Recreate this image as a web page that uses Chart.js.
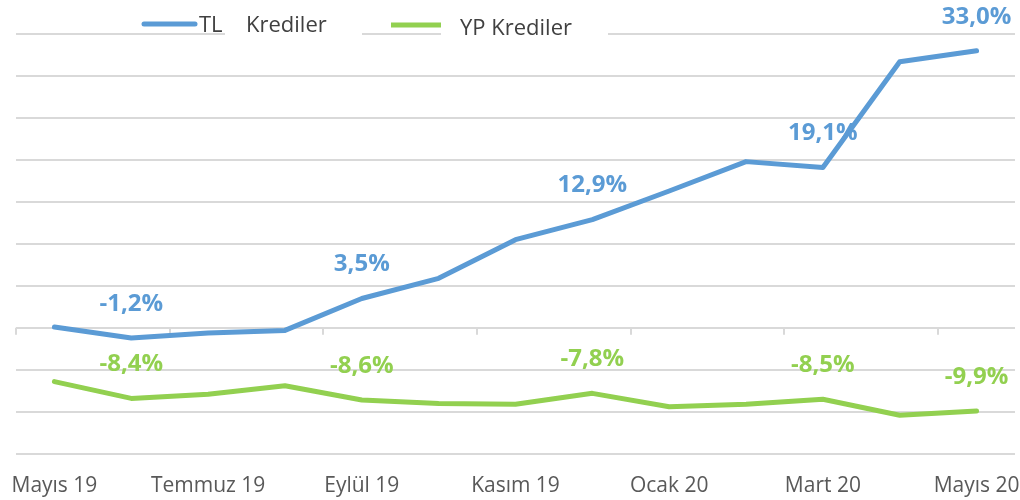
<!DOCTYPE html>
<html>
<head>
<meta charset="utf-8">
<script src="https://cdn.jsdelivr.net/npm/chart.js@4/dist/chart.umd.min.js"></script>
<style>
html,body{margin:0;padding:0;background:#fff;}
#wrap{width:1020px;height:500px;}
</style>
</head>
<body>
<div id="wrap"><canvas id="c" width="1020" height="500"></canvas></div>
<script>
const months = ['Mayıs 19','Haziran 19','Temmuz 19','Ağustos 19','Eylül 19','Ekim 19','Kasım 19','Aralık 19','Ocak 20','Şubat 20','Mart 20','Nisan 20','Mayıs 20'];
const tlValues = [0.1,-1.2,-0.6,-0.3,3.5,5.9,10.5,12.9,16.3,19.8,19.1,31.7,33.0];
const ypValues = [-6.4,-8.4,-7.9,-6.9,-8.6,-9.0,-9.1,-7.8,-9.4,-9.1,-8.5,-10.4,-9.9];
const labeledIdx = [1,4,7,10,12];
const seriesNames = ['TL Krediler','YP Krediler'];
const yMin = -15, yMax = 35, yStep = 5;

const BLUE = '#5B9BD5', GREEN = '#92D050', GRID = '#d9d9d9';

const zeroAxisTicks = {
  id: 'zeroAxisTicks',
  beforeDatasetsDraw(chart) {
    const xs = chart.scales.x, ys = chart.scales.y;
    const ctx = chart.ctx;
    const y0 = ys.getPixelForValue(0);
    const half = (xs.getPixelForValue(1) - xs.getPixelForValue(0)) / 2;
    ctx.save();
    ctx.strokeStyle = GRID;
    ctx.lineWidth = 2;
    ctx.beginPath();
    for (let i = 0; i < months.length; i += 2) {
      const x = Math.round(xs.getPixelForValue(i) - half);
      ctx.moveTo(x, y0);
      ctx.lineTo(x, y0 + 7);
    }
    ctx.stroke();
    ctx.restore();
  }
};

const valueLabels = {
  id: 'valueLabels',
  afterDatasetsDraw(chart) {
    const ctx = chart.ctx;
    ctx.save();
    ctx.font = 'bold 24px "Open Sans"';
    ctx.textAlign = 'center';
    ctx.textBaseline = 'middle';
    chart.data.datasets.forEach((ds, di) => {
      const meta = chart.getDatasetMeta(di);
      ctx.fillStyle = ds.borderColor;
      labeledIdx.forEach(i => {
        const p = meta.data[i];
        const txt = ds.data[i].toFixed(1).replace('.', ',') + '%';
        ctx.fillText(txt, p.x, p.y - 34);
      });
    });
    ctx.restore();
  }
};

const legendPlugin = {
  id: 'customLegend',
  afterDraw(chart) {
    const ctx = chart.ctx;
    ctx.save();
    ctx.fillStyle = '#fff';
    ctx.fillRect(225, 28, 137, 12);
    ctx.fillRect(441, 28, 167, 12);
    ctx.lineWidth = 5;
    ctx.lineCap = 'round';
    ctx.strokeStyle = chart.data.datasets[0].borderColor;
    ctx.beginPath(); ctx.moveTo(144, 24); ctx.lineTo(195, 24); ctx.stroke();
    ctx.lineCap = 'butt';
    ctx.strokeStyle = chart.data.datasets[1].borderColor;
    ctx.beginPath(); ctx.moveTo(391, 25); ctx.lineTo(441, 25); ctx.stroke();
    ctx.fillStyle = '#404040';
    ctx.font = '22px "Open Sans"';
    ctx.textBaseline = 'middle';
    ctx.textAlign = 'left';
    const tl = chart.data.datasets[0].label.split(' ');
    ctx.fillText(tl[0], 199, 26);
    ctx.fillText(tl.slice(1).join(' '), 246, 26);
    ctx.fillText(chart.data.datasets[1].label, 460, 29);
    ctx.restore();
  }
};

new Chart(document.getElementById('c'), {
  type: 'line',
  data: {
    labels: months,
    datasets: [
      { label: seriesNames[0], data: tlValues, borderColor: BLUE, backgroundColor: BLUE, borderWidth: 5, pointRadius: 0, tension: 0, borderCapStyle: 'round', borderJoinStyle: 'round' },
      { label: seriesNames[1], data: ypValues, borderColor: GREEN, backgroundColor: GREEN, borderWidth: 5, pointRadius: 0, tension: 0, borderCapStyle: 'round', borderJoinStyle: 'round' }
    ]
  },
  options: {
    responsive: false,
    animation: false,
    layout: { padding: { left: 16, right: 5, top: 34, bottom: 1 } },
    plugins: { legend: { display: false }, tooltip: { enabled: false } },
    scales: {
      x: {
        type: 'category',
        position: 'bottom',
        offset: true,
        grid: { display: true, drawOnChartArea: false, drawTicks: true, tickLength: 20, color: 'rgba(0,0,0,0)' },
        border: { display: false },
        ticks: {
          autoSkip: false, maxRotation: 0, minRotation: 0, padding: 0,
          color: '#595959', font: { family: 'Open Sans', size: 21 },
          callback: function(v, i) { return i % 2 === 0 ? this.getLabelForValue(v) : ''; }
        }
      },
      y: {
        min: yMin, max: yMax,
        ticks: { stepSize: yStep, display: false },
        grid: { color: GRID, lineWidth: 2, drawTicks: false },
        border: { display: false }
      }
    }
  },
  plugins: [zeroAxisTicks, valueLabels, legendPlugin]
});
</script>
</body>
</html>
